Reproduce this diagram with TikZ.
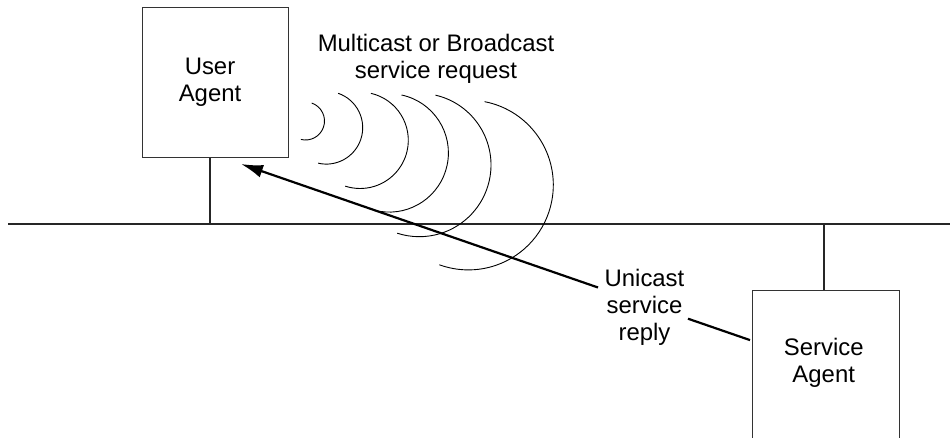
\documentclass[tikz,border=0pt]{standalone}
\usepackage{fontspec}
\setmainfont{Liberation Sans}
\usetikzlibrary{arrows.meta}
\begin{document}
\begin{tikzpicture}[x=1pt,y=-1pt,
  box/.style={draw=black!80,line width=1pt,minimum width=146pt,minimum height=150pt,inner sep=0pt},
  txt/.style={align=center,inner sep=0pt,font=\fontsize{23.9}{27}\selectfont},
  wire/.style={draw=black!85,line width=1.3pt},
  wave/.style={draw=black,line width=0.9pt},
  replyline/.style={draw=black,line width=2.2pt}]
\clip (0,0) rectangle (950,438);
% boxes
\node[box] (ua) at (215,83) {};
\node[box,minimum width=147pt,minimum height=180pt,anchor=north] (sa) at (825.5,290) {};
% bus
\coordinate (busL) at (8,224);
\coordinate (busR) at (950,224);
\coordinate (uatap) at (210,224);
\coordinate (satap) at (824,224);
\draw[wire] (busL) -- (busR);
\draw[wire] (uatap |- ua.south) -- (uatap);
\draw[wire] (satap) -- (satap |- sa.north);
% texts
\node[txt] (uatext) at (210,82.4) {User\\Agent};
\node[txt] (mtext) at (436,58.4) {Multicast or Broadcast\\service request};
\node[txt] (utext) at (644.5,307) {Unicast\\service\\reply};
\node[txt] (satext) at (823.7,362.6) {Service\\Agent};
% waves
\draw[wave] (305.5,121) ++(71:19pt) arc[start angle=71,end angle=-104,radius=19pt];
\draw[wave] (326.3,127.7) ++(71:36.4pt) arc[start angle=71,end angle=-103,radius=36.4pt];
\draw[wave] (360.1,140.3) ++(77:48.2pt) arc[start angle=77,end angle=-108,radius=48.2pt];
\draw[wave] (389.2,152.9) ++(78:59.2pt) arc[start angle=78,end angle=-99,radius=59.2pt];
\draw[wave] (419.3,165) ++(77:71.7pt) arc[start angle=77,end angle=-108,radius=71.7pt];
\draw[wave] (468.4,185) ++(79:84.9pt) arc[start angle=79,end angle=-110,radius=84.9pt];
% unicast reply arrow
\coordinate (tip) at (241,164);
\coordinate (gapA) at (598,287.5);
\coordinate (gapB) at (688,318.7);
\coordinate (tail) at (750,340.1);
\draw[replyline] (tail) -- (gapB);
\draw[replyline,-{Latex[length=22pt,width=13pt]}] (gapA) -- (tip);
\end{tikzpicture}
\end{document}
